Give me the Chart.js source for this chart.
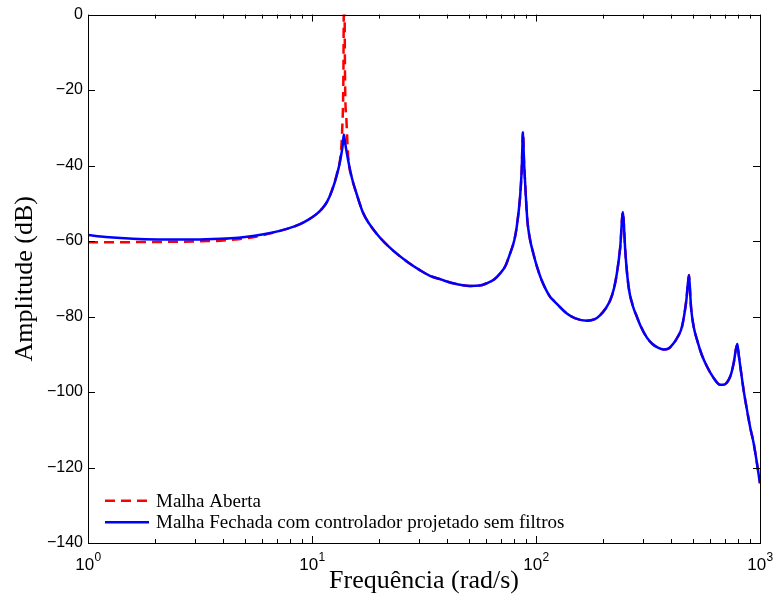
<!DOCTYPE html>
<html>
<head>
<meta charset="utf-8">
<script src="https://cdn.jsdelivr.net/npm/chart.js@4.4.0/dist/chart.umd.min.js"></script>
<style>
  html, body { margin: 0; padding: 0; background: #fff; }
  #wrap { width: 774px; height: 599px; position: relative; }
</style>
</head>
<body>
<div id="wrap"><canvas id="bode"></canvas></div>
<script>
'use strict';

// --- data (frequency in rad/s, amplitude in dB) ---
const seriesNames = ['Malha Aberta', 'Malha Fechada com controlador projetado sem filtros'];
const xTitle = 'Frequência (rad/s)';
const yTitle = 'Amplitude (dB)';

const decadeTicks = [1, 10, 100, 1000];
const decadeExponents = ['0', '1', '2', '3'];
const ampTicks = [-140, -120, -100, -80, -60, -40, -20, 0];

// open loop, up to the first (undamped) resonance
const openHeadFreq = [1.0, 1.4, 1.8, 2.34, 3.0, 3.91, 4.7, 5.55, 6.6, 7.79, 8.79, 9.6, 10.4, 11.1, 11.7,
  12.3, 12.9, 13.4, 13.65, 13.8, 13.92, 14.05, 14.25, 14.5, 15.1];
const openHeadAmp = [-60.3, -60.3, -60.25, -60.2, -60.1, -59.9, -59.5, -58.9, -57.9, -56.7, -55.6, -54.4, -53.0, -51.4, -49.5,
  -46.4, -42.3, -37.5, -30, -18, 15, -18, -28, -37.5, -43.5];

// closed loop, same span
const closedHeadFreq = [1.0, 1.2, 1.4, 1.8, 2.34, 3.0, 3.91, 4.7, 5.55, 6.6, 7.79, 8.79, 9.6, 10.4, 11.1, 11.7,
  12.3, 12.9, 13.4, 13.7, 13.87, 14.1, 14.5, 15.1];
const closedHeadAmp = [-58.4, -58.9, -59.2, -59.5, -59.6, -59.6, -59.4, -59.1, -58.6, -57.8, -56.7, -55.6, -54.4, -53.0, -51.4, -49.5,
  -46.5, -42.6, -38.3, -34.8, -31.8, -34.5, -38.6, -43.5];

// both curves coincide from here on
const tailFreq = [15.8, 16.9, 18.0, 19.4, 21.0, 23.1, 26.5, 30.3, 33.6, 37.3, 42.7, 50.7, 56, 60.2, 65, 69.1, 73, 76.6, 80, 82.0,
  84.9, 86.3, 87.5, 88.3, 89.3, 91.5, 94, 97.3, 101, 106, 115.6, 119.6, 137.3, 150, 168.7, 183, 193.5, 205, 214.4, 223,
  229.6, 237.7, 244.4, 247, 250.2, 259, 270, 282.2, 292, 312.8, 330, 352, 371.5, 390, 411.5, 430, 448.4, 469, 482, 487,
  492, 505, 523.6, 550, 580.5, 620, 665.3, 695, 724.4, 745, 762.7, 792, 805, 817, 845, 875, 905, 937, 970, 1000];
const tailAmp = [-47.4, -52.5, -55.4, -58.0, -60.3, -62.6, -65.4, -67.7, -69.2, -70.1, -71.2, -71.9, -71.8, -71.2, -70.2, -68.6, -66.6, -63.3, -59.8, -56.3,
  -48.3, -41.3, -31.1, -38, -43.9, -54.5, -59.5, -63.3, -66.8, -70.4, -74.8, -75.7, -79.2, -80.5, -81.1, -80.7, -79.6, -77.8, -75.7, -72.5,
  -68.6, -61.6, -52.3, -56, -62.4, -72.1, -77, -80.1, -82.3, -85.6, -87.2, -88.3, -88.7, -88.5, -87.1, -85.3, -82.7, -75.7, -69.0, -73,
  -77.4, -82.5, -86.2, -90.2, -93.3, -96.2, -98.1, -98.0, -96.8, -95, -92.4, -87.3, -90.5, -93.3, -99.5, -104.8, -109.5, -113.6, -119, -124.2];

// --- helpers ---
const SANS = '"Liberation Sans", Arial, Helvetica, sans-serif';
const SERIF = '"Liberation Serif", "Times New Roman", serif';

function toPoints(freqs, amps) {
  return freqs.map((f, i) => ({ x: f, y: amps[i] }));
}

// MATLAB-like box, inward ticks, 10^n labels and a legend in the lower-left corner
const matlabAxes = {
  id: 'matlabAxes',
  afterDraw(chart) {
    const { ctx, chartArea: a, scales: { x, y } } = chart;
    ctx.save();
    ctx.strokeStyle = '#000';
    ctx.lineWidth = 1;
    ctx.strokeRect(Math.round(a.left) + 0.5, Math.round(a.top) + 0.5,
      Math.round(a.right - a.left), Math.round(a.bottom - a.top));

    ctx.beginPath();
    ampTicks.forEach(v => {
      const py = Math.round(y.getPixelForValue(v)) + 0.5;
      ctx.moveTo(a.left, py); ctx.lineTo(a.left + 7, py);
      ctx.moveTo(a.right, py); ctx.lineTo(a.right - 7, py);
    });
    decadeTicks.forEach((d, k) => {
      const px = Math.round(x.getPixelForValue(d)) + 0.5;
      ctx.moveTo(px, a.bottom); ctx.lineTo(px, a.bottom - 7);
      ctx.moveTo(px, a.top); ctx.lineTo(px, a.top + 7);
      if (k === decadeTicks.length - 1) return;
      for (let m = 2; m <= 9; m++) {
        const mx = Math.round(x.getPixelForValue(d * m)) + 0.5;
        ctx.moveTo(mx, a.bottom); ctx.lineTo(mx, a.bottom - 4);
        ctx.moveTo(mx, a.top); ctx.lineTo(mx, a.top + 4);
      }
    });
    ctx.stroke();

    // x tick labels as 10^n
    ctx.fillStyle = '#000';
    ctx.textAlign = 'left';
    ctx.textBaseline = 'alphabetic';
    decadeTicks.forEach((d, k) => {
      const px = x.getPixelForValue(d);
      ctx.font = '17px ' + SANS;
      const w1 = ctx.measureText('10').width;
      ctx.font = '12px ' + SANS;
      const w2 = ctx.measureText(decadeExponents[k]).width;
      const x0 = px - (w1 + w2) / 2;
      ctx.font = '17px ' + SANS;
      ctx.fillText('10', x0, a.bottom + 27);
      ctx.font = '12px ' + SANS;
      ctx.fillText(decadeExponents[k], x0 + w1 + 0.5, a.bottom + 18);
    });

    // legend
    ctx.font = '19px ' + SERIF;
    ctx.textBaseline = 'middle';
    chart.data.datasets.forEach((ds, i) => {
      const ly = 500.7 + i * 21.6;
      ctx.strokeStyle = ds.borderColor;
      ctx.lineWidth = ds.borderWidth;
      ctx.setLineDash(ds.borderDash || []);
      ctx.beginPath();
      ctx.moveTo(105, ly); ctx.lineTo(149, ly);
      ctx.stroke();
      ctx.setLineDash([]);
      ctx.fillStyle = '#000';
      ctx.fillText(ds.label, 156, ly + 1);
    });
    ctx.restore();
  }
};

new Chart(document.getElementById('bode'), {
  type: 'line',
  data: {
    datasets: [
      {
        label: seriesNames[0],
        data: toPoints(openHeadFreq.concat(tailFreq), openHeadAmp.concat(tailAmp)),
        borderColor: '#ff0000',
        borderWidth: 2.5,
        borderDash: [10, 6],
        order: 1
      },
      {
        label: seriesNames[1],
        data: toPoints(closedHeadFreq.concat(tailFreq), closedHeadAmp.concat(tailAmp)),
        borderColor: '#0000ff',
        borderWidth: 2.5,
        order: 0
      }
    ]
  },
  options: {
    responsive: true,
    maintainAspectRatio: false,
    animation: false,
    layout: { padding: { top: 14, right: 14, bottom: 0, left: 0 } },
    elements: {
      point: { radius: 0 },
      line: { cubicInterpolationMode: 'monotone', fill: false, borderJoinStyle: 'round' }
    },
    plugins: { legend: { display: false }, tooltip: { enabled: false } },
    scales: {
      x: {
        type: 'logarithmic',
        min: 1, max: 1000,
        position: 'bottom',
        grid: { display: false, drawTicks: false },
        border: { display: false },
        ticks: { display: false },
        title: { display: true, text: xTitle, color: '#000', font: { family: SERIF, size: 26 }, padding: { top: 0, bottom: 2 } },
        afterFit: s => { s.height = 56; }
      },
      y: {
        type: 'linear',
        min: -140, max: 0,
        position: 'left',
        grid: { display: false, drawTicks: false },
        border: { display: false },
        afterBuildTicks: s => { s.ticks = ampTicks.map(v => ({ value: v })); },
        ticks: {
          color: '#000',
          padding: 5,
          font: { family: SANS, size: 16 },
          callback: v => (v < 0 ? '\u2212' + Math.abs(v) : String(v))
        },
        title: { display: true, text: yTitle, color: '#000', font: { family: SERIF, size: 26 }, padding: { top: 10, bottom: 0 } },
        afterFit: s => { s.width = 88; }
      }
    }
  },
  plugins: [matlabAxes]
});
</script>
</body>
</html>
